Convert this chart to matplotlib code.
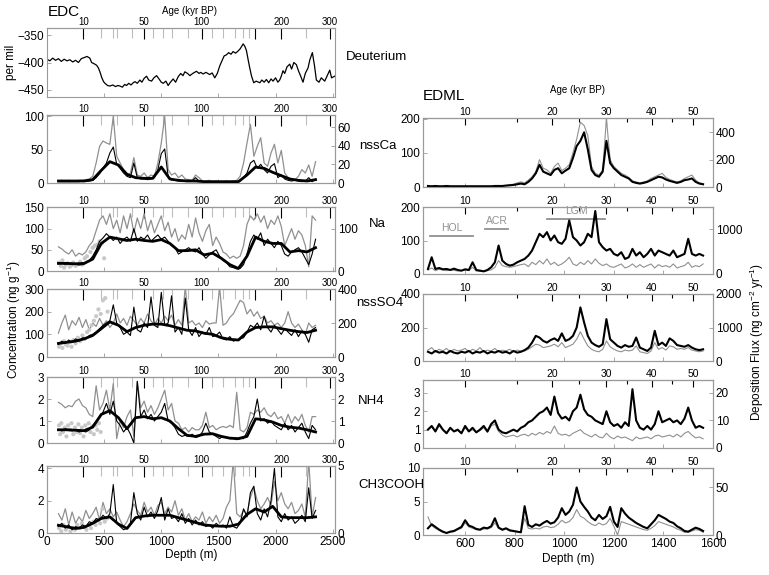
import numpy as np
import matplotlib
matplotlib.use("Agg")
import matplotlib.pyplot as plt

plt.rcParams['font.family'] = ['Liberation Sans', 'DejaVu Sans']
plt.rcParams['mathtext.fontset'] = 'custom'
plt.rcParams['mathtext.rm'] = 'Liberation Sans'
plt.rcParams['mathtext.it'] = 'Liberation Sans:italic'

# ---------------- EDC data ----------------
deut_depth = [0,25,50,75,100,125,150,175,200,225,
              250,275,300,325,350,375,390,410,434,450,
              463,480,495,507,530,551,575,600,620,638,
              660,680,696,715,735,754,770,790,813,830,
              850,871,890,915,935,959,980,1000,1017,1040,
              1060,1080,1104,1125,1148,1170,1190,1206,1230,1250,
              1275,1308,1330,1345,1366,1390,1424,1445,1468,1490,
              1512,1535,1550,1570,1590,1610,1628,1650,1672,1690,
              1705,1716,1730,1745,1760,1774,1790,1809,1830,1862,
              1880,1900,1920,1940,1960,1978,2000,2020,2036,2050,
              2065,2080,2100,2124,2140,2160,2182,2200,2220,2240,
              2260,2284,2300,2322,2340,2357,2380,2400,2430,2450,
              2474,2490,2517]
deut_val = [-394,-397,-392,-396,-393,-398,-394,-397,-395,-399,
            -396,-400,-393,-391,-389,-392,-400,-402,-405,-410,
            -417,-428,-435,-438,-442,-443,-441,-444,-442,-443,
            -445,-440,-442,-438,-441,-437,-435,-438,-432,-436,
            -429,-425,-432,-434,-428,-424,-430,-436,-438,-434,
            -442,-436,-430,-436,-426,-420,-424,-417,-420,-424,
            -420,-416,-420,-418,-421,-418,-422,-419,-428,-420,
            -406,-395,-388,-386,-382,-385,-380,-383,-379,-375,
            -370,-366,-370,-378,-395,-410,-425,-437,-434,-437,
            -432,-436,-431,-437,-430,-434,-428,-436,-432,-425,
            -415,-420,-408,-403,-412,-400,-404,-415,-425,-436,
            -420,-410,-395,-382,-405,-432,-436,-428,-434,-425,
            -414,-428,-425]

edc_depth = np.arange(100, 2351, 30)      # sample depths of thin series (m)
edc_sdepth = np.arange(100, 2351, 75)     # depths of smoothed series (m)

ca_thin = [2,2,2,2,2,2,2,3,3,3, 4,8,14,22,30,45,54,28,22,15, 10,8,30,8,6,6,5,6,8,20,
           44,51,10,5,4,3,3,3,4,3, 8,3,2,2,2,1,1,1,1,2, 1,2,2,3,8,15,30,34,22,28,
           20,15,25,29,8,12,6,4,3,4, 3,2,3,8,2,6]
ca_gray = [3,4,3,4,3,3,4,4,5,6, 10,30,55,63,60,58,100,40,30,20, 12,15,38,12,10,15,8,12,10,30,
           60,100,20,12,15,8,12,6,5,4, 12,8,3,3,4,2,3,2,2,3, 2,3,4,10,30,60,88,40,55,68,
           30,25,45,58,30,49,15,8,6,5, 10,20,15,27,10,32]
ca_smooth = [3,3,3,3,5,19,32,27,13,8, 7,7,24,6,4,3,3,2,2,2, 2,2,12,24,22,16,11,6,4,3, 5]

na_thin = [17,18,16,17,15,16,14,15,18,25, 35,50,70,78,88,80,72,80,65,75, 80,70,100,70,80,75,85,70,78,85,
           75,80,70,60,55,40,45,50,55,48, 45,55,40,30,38,45,50,35,25,20, 10,8,5,6,15,40,70,85,75,90,
           60,75,65,55,70,60,40,35,45,50, 55,45,30,15,40,75]
na_gray = [57,52,45,40,50,35,42,38,45,60, 70,95,120,130,110,135,100,120,90,130, 100,135,90,125,100,135,95,120,90,110,
           130,95,115,80,100,70,85,75,110,80, 125,90,70,95,110,60,80,65,45,40, 30,35,30,35,60,110,130,120,135,115,
           130,100,120,110,130,105,60,80,100,75, 95,85,60,10,130,120]
na_smooth = [18,18,17,18,28,65,80,76,72,75, 72,70,74,65,48,48,50,38,42,30, 15,6,35,80,70,65,65,45,48,45, 55]
na_dot_depth = [105,120,135,150,165,180,200,215,230,250,270,290,310,330,350,380,400,420,440,460,480,500]
na_dot_val = [20,12,25,8,15,18,10,14,20,12,16,22,15,30,35,45,55,60,62,70,65,30]

so4_thin = [55,70,60,75,65,80,70,85,80,95, 100,110,125,140,150,160,230,150,130,100, 110,95,220,120,110,150,130,265,140,130,
            285,140,150,270,110,130,100,260,120,95, 130,90,110,100,130,90,95,110,80,75, 90,70,75,80,85,110,140,130,150,120,
            180,130,110,140,120,100,125,110,95,120, 90,115,100,65,120,130]
so4_gray = [105,150,185,120,160,140,175,130,165,120, 150,135,170,140,160,130,150,190,150,170, 140,180,160,140,170,150,190,160,140,170,
            150,180,160,185,140,165,140,310,150,160, 140,150,130,160,145,150,150,310,140,150, 175,190,220,250,240,190,210,180,200,170,
            180,150,160,140,150,130,150,200,150,130, 145,120,100,150,130,140]
so4_smooth = [60,65,70,80,95,125,155,140,112,130, 140,145,145,138,128,118,115,105,100,85, 78,75,110,130,133,133,125,118,112,108, 118]
so4_dot_depth = [105,120,135,150,165,180,200,215,230,250,270,290,310,330,350,370,390,410,430,450,470,490,510,530]
so4_dot_val = [45,60,40,70,55,50,65,45,75,60,85,70,95,80,110,120,140,160,180,210,190,250,260,200]

nh4_thin = [0.6,0.55,0.65,0.6,0.55,0.6,0.5,0.55,0.5,0.6, 0.8,1.0,1.2,1.4,1.8,1.3,1.9,1.0,0.8,0.5,
            0.7,0.4,0.0,2.8,1.2,1.5,1.1,1.3,1.0,1.2, 1.4,1.8,1.0,0.9,0.7,0.4,0.3,0.35,0.3,0.4,
            0.25,0.3,0.5,0.9,0.5,0.4,0.3,0.2,0.3,0.25, 0.2,0.2,0.15,0.2,0.2,0.5,0.9,1.2,2.0,1.0,
            1.1,0.9,1.0,0.8,0.7,0.6,0.9,0.6,0.8,0.5, 0.7,0.9,0.5,0.2,0.8,0.6]
nh4_gray = [1.85,1.75,1.6,1.7,1.65,1.9,2.0,1.7,1.6,1.3, 1.2,2.6,1.5,1.8,2.4,1.5,2.7,0.2,1.0,0.7,
            1.2,1.5,0.3,2.8,1.6,1.9,1.4,1.7,1.3,1.6, 2.0,2.4,1.5,1.8,1.0,0.9,0.6,0.7,0.5,0.7,
            0.6,0.6,0.8,1.4,0.7,0.8,0.6,0.7,0.75,0.7, 0.8,0.7,2.3,0.6,0.5,0.7,1.4,1.3,1.5,1.4,
            1.6,1.3,1.2,1.4,1.1,1.2,0.9,1.3,0.9,1.2, 1.0,1.3,0.8,0.5,1.2,1.2]
nh4_smooth = [0.6,0.6,0.58,0.56,0.72,1.3,1.47,1.15,0.65,1.15, 1.2,1.1,1.15,1.0,0.65,0.35,0.3,0.4,0.42,0.3,
              0.22,0.2,0.3,1.1,1.05,0.95,0.8,0.72,0.68,0.6, 0.5]
nh4_dot_depth = [105,115,125,140,155,170,185,200,215,230,245,260,275,290,305,320,335,350,365,380,395,410,425,440,455,470]
nh4_dot_val = [0.8,0.4,0.9,0.5,0.7,0.3,0.8,0.6,0.9,0.4,0.7,0.5,0.85,0.45,0.7,0.3,0.8,0.6,0.9,0.5,0.75,0.4,0.8,0.6,0.9,0.5]

ac_thin = [0.4,0.6,0.3,0.5,0.2,0.4,0.3,0.5,0.4,0.7, 0.6,0.9,0.8,1.1,0.9,1.2,3.0,0.6,0.4,0.2,
           0.3,0.6,2.5,1.2,0.8,1.6,1.0,1.3,0.9,1.4, 2.2,0.8,1.5,0.9,1.0,0.7,1.2,0.6,0.9,0.5,
           0.8,0.5,0.7,0.4,0.5,0.3,0.6,0.4,0.5,0.3, 1.0,0.4,0.3,0.6,1.5,1.0,2.5,2.9,1.2,0.8,
           1.5,1.0,2.0,4.0,1.0,0.7,1.2,0.8,1.0,0.6, 0.8,1.1,0.7,2.8,0.9,1.4]
ac_gray = [1.2,0.8,1.5,0.5,1.3,0.6,1.0,0.7,1.4,0.9, 1.2,1.6,0.8,1.9,1.2,1.5,1.0,1.3,0.8,0.4,
           0.7,1.2,1.8,1.4,1.1,1.9,1.3,1.6,1.1,1.7, 1.9,1.2,1.6,1.3,2.0,1.1,1.5,0.8,1.2,0.7,
           1.0,0.8,1.3,0.6,1.0,0.7,1.1,0.6,0.9,1.6, 2.0,4.5,1.2,1.0,1.4,1.2,2.2,2.8,2.0,1.5,
           1.8,2.2,1.7,3.2,2.0,2.5,1.8,1.5,1.9,1.2, 1.4,1.8,1.0,4.5,1.0,2.2]
ac_smooth = [0.48,0.38,0.28,0.35,0.6,0.9,1.0,0.55,0.28,0.95, 1.05,1.1,1.1,1.1,0.95,0.8,0.65,0.5,0.45,0.42,
             0.42,0.55,1.15,1.5,1.3,1.65,1.0,0.95,0.95,0.95, 1.0]
ac_dot_depth = [105,125,145,165,185,205,225,245,265,285,305,325,345,365,385,405,425,445,465,485,505,525]
ac_dot_val = [0.3,0.1,0.5,0.2,0.4,0.1,0.3,0.2,0.5,0.3,0.6,0.4,0.2,0.5,0.3,0.7,0.5,0.8,0.6,1.5,0.7,0.9]

# EDC age scale (depth of age markers, m)
edc_age_major = [318, 848, 1352, 1818, 2051, 2474]
edc_age_labels = ['10', '50', '100', '', '200', '300']
edc_age_minor = [472, 574, 612, 740, 929, 1017, 1090, 1235, 1440, 1541, 1643, 1716, 1769, 2270]

# ---------------- EDML data ----------------
edml_depth = np.arange(450, 1561, 15)

m_ca = [3,2,3,2,2,3,2,2,2,2, 2,2,2,2,2,2,2,2,3,3, 3,4,5,6,8,10,8,15,25,40,
        65,45,40,35,50,55,40,48,55,85, 120,135,160,110,50,35,30,45,135,70,
        55,45,35,30,25,15,12,10,12,15, 20,25,30,28,22,18,15,12,15,20, 22,25,15,10,8]
m_ca_gray = [4,3,4,3,3,4,3,3,3,3, 3,3,3,3,3,3,3,3,4,4, 4,5,7,8,12,15,12,20,30,45,
             80,55,50,40,60,70,48,55,65,100, 140,190,180,150,60,40,35,50,200,80,
             60,50,40,35,28,18,15,12,15,18, 25,30,35,40,28,22,18,15,18,25, 30,35,20,12,10]
m_na = [15,50,15,18,14,15,12,16,12,10, 14,12,35,12,10,8,12,20,35,85, 40,30,25,28,35,40,45,55,70,95,
        120,110,125,100,115,95,90,105,160,110, 100,85,95,120,110,188,95,80,70,75,
        60,55,65,45,50,75,55,65,50,60, 75,55,70,65,60,55,70,50,55,60, 105,60,55,60,55]
m_na_gray = [12,18,10,14,12,10,13,11,9,10, 12,10,20,9,8,7,10,12,20,40, 25,22,20,22,25,28,30,22,35,28,
             40,30,45,28,35,25,30,38,50,30, 25,35,28,40,30,45,32,25,30,22,
             20,25,30,18,22,30,20,28,20,25, 30,18,28,22,25,20,30,18,22,25, 35,20,25,22,30]
m_so4 = [55,45,60,50,55,45,60,50,45,55, 50,60,45,55,50,60,45,55,50,60, 50,55,45,60,50,55,65,80,110,150,
         140,120,110,125,135,120,165,120,130,150, 200,320,230,150,110,95,85,100,250,130,
         110,90,80,95,85,90,140,80,70,60, 80,180,95,110,90,135,120,95,90,85, 95,80,70,65,70]
m_so4_gray = [65,80,55,70,60,75,55,70,60,65, 75,55,70,60,80,55,65,60,75,55, 65,60,70,55,65,60,60,70,85,100,
              95,80,85,90,100,85,110,80,90,100, 130,175,130,90,70,60,55,70,120,85,
              70,60,55,65,60,65,90,55,50,45, 60,110,70,80,65,90,85,70,75,70, 80,65,60,55,60]
m_nh4 = [1.0,1.2,0.9,1.3,1.0,0.8,1.1,0.9,1.0,0.8, 1.2,0.9,1.1,0.85,1.0,1.2,0.9,1.3,1.5,1.0,
         0.85,0.8,0.9,1.0,0.9,1.1,1.2,1.4,1.5,1.7, 1.9,2.0,2.2,1.8,2.8,1.9,1.6,1.7,1.5,2.0,
         2.2,2.9,2.1,1.8,1.7,1.5,1.4,1.3,2.0,1.4, 1.2,1.3,1.1,1.4,1.2,3.2,1.5,1.1,1.0,1.2,
         1.0,1.3,2.0,1.4,1.5,1.6,1.4,1.5,1.3,1.6, 2.2,1.5,1.1,1.2,1.1]
m_nh4_gray = [1.0,1.15,0.9,1.2,1.0,0.85,1.05,0.9,0.95,0.8, 1.1,0.9,1.0,0.85,0.95,1.1,0.85,1.2,1.3,0.9,
              0.7,0.6,0.65,0.7,0.6,0.7,0.75,0.65,0.8,0.7, 0.85,0.75,0.9,0.8,1.2,0.8,0.7,0.75,0.65,0.8,
              0.9,1.0,0.8,0.7,0.6,0.75,0.6,0.55,0.8,0.6, 0.5,0.65,0.55,0.6,0.5,0.4,0.6,0.5,0.55,0.6,
              0.5,0.65,0.7,0.6,0.65,0.7,0.6,0.75,0.6,0.8, 0.9,0.7,0.55,0.6,0.5]
m_ac = [1.0,1.6,1.2,0.8,0.5,0.3,0.5,0.6,0.9,1.2, 2.2,1.4,1.2,0.9,0.8,1.1,1.0,1.3,2.5,1.1,
        0.8,1.0,0.7,0.6,0.5,0.4,4.3,1.5,1.2,1.6, 1.4,1.8,2.1,1.7,1.9,2.6,4.0,3.0,3.5,4.5,
        7.1,5.0,4.2,3.5,2.6,2.2,3.0,2.4,2.8,4.2, 2.0,1.2,4.0,3.2,2.6,2.2,1.8,1.5,1.2,1.0,
        1.6,2.2,3.0,2.7,2.4,2.0,1.8,1.3,1.0,0.6, 0.5,0.8,1.1,0.9,0.6]
m_ac_gray = [2.7,1.4,1.0,0.7,0.4,0.3,0.4,0.5,0.8,1.0, 1.8,1.2,1.0,0.8,0.7,0.9,0.9,1.1,1.8,1.0,
             0.7,0.9,0.6,0.5,0.5,0.4,2.5,1.0,0.9,1.0, 0.9,1.2,1.3,1.1,1.2,1.6,2.2,1.8,2.0,2.6,
             3.8,2.8,2.5,2.0,1.6,1.4,1.8,1.5,1.7,2.5, 1.3,0.0,2.0,1.8,1.6,1.4,1.2,1.0,0.8,0.7,
             1.0,1.4,2.0,1.8,1.6,1.4,1.2,0.9,0.7,0.4, 0.4,0.6,0.8,0.7,0.4]

edml_age_major = [600, 950, 1169, 1353, 1521]
edml_age_labels = ['10', '20', '30', '40', '50']
edml_age_minor = [808, 1061, 1252, 1435]

periods = ['HOL', 'ACR', 'LGM']
period_start = [459, 681, 931]
period_end = [632, 773, 1165]
period_level = [113, 134, 164]

# ---------------- figure ----------------
W, H = 769, 575
fig = plt.figure(figsize=(W / 100, H / 100), dpi=100)
SP = '#9a9a9a'
GRAY = '#909090'
LGRAY = '#c8c8c8'
TS = 8.5


def add_ax(x0, x1, y0, y1):
    return fig.add_axes([x0 / W, 1 - y1 / H, (x1 - x0) / W, (y1 - y0) / H])


def frame(ax):
    for s in ax.spines.values():
        s.set_color(SP)
        s.set_linewidth(0.8)
    ax.tick_params(direction='in', length=3, width=0.6, color=SP, labelsize=TS, pad=2)


def age_axis(ax, major, labels, minor, mlen, nlen, ncol, size):
    sec = ax.secondary_xaxis('top')
    sec.set_xticks(major, labels=labels)
    sec.set_xticks(minor, minor=True)
    sec.tick_params(which='major', direction='in', length=mlen, width=0.8,
                    color='black', labelsize=size, pad=1)
    sec.tick_params(which='minor', direction='in', length=nlen, width=0.8, color=ncol)
    for s in sec.spines.values():
        s.set_color(SP)
        s.set_linewidth(0.8)


def ft(x, y, s, **kw):
    fig.text(x / W, 1 - y / H, s, **kw)


def edc_panel(y0, y1, ylim, yticks, rlim=None, rticks=None, last=False):
    ax = add_ax(47, 335, y0, y1)
    ax.set_xlim(0, 2520)
    ax.set_ylim(*ylim)
    ax.set_yticks(yticks)
    ax.set_xticks([0, 500, 1000, 1500, 2000, 2500])
    frame(ax)
    if not last:
        ax.tick_params(labelbottom=False)
    if rlim is not None:
        rx = ax.twinx()
        rx.set_ylim(*rlim)
        rx.set_yticks(rticks)
        frame(rx)
    age_axis(ax, edc_age_major, edc_age_labels, edc_age_minor, 8, 7, '#bdbdbd', 7)
    return ax


def edml_panel(y0, y1, ylim, yticks, rlim, rticks, last=False):
    ax = add_ax(423, 713, y0, y1)
    ax.set_xlim(430, 1600)
    ax.set_ylim(*ylim)
    ax.set_yticks(yticks)
    ax.set_xticks([600, 800, 1000, 1200, 1400, 1600])
    frame(ax)
    if not last:
        ax.tick_params(labelbottom=False)
    rx = ax.twinx()
    rx.set_ylim(*rlim)
    rx.set_yticks(rticks)
    frame(rx)
    age_axis(ax, edml_age_major, edml_age_labels, edml_age_minor, 5, 3, 'black', 7.5)
    return ax


def edc_series(ax, thin, gray, smooth, dd=None, dv=None):
    ax.plot(edc_depth, gray, color=GRAY, lw=0.9, zorder=2)
    if dd is not None:
        ax.scatter(dd, dv, s=9, color=LGRAY, edgecolors='none', zorder=3)
    ax.plot(edc_depth, thin, color='black', lw=0.8, zorder=4)
    ax.plot(edc_sdepth, smooth, color='black', lw=2.0, zorder=5)


# ---- EDC column ----
ax = edc_panel(28, 97, (-463, -337), [-450, -400, -350])
ax.plot(deut_depth, deut_val, color='black', lw=0.9)

ax = edc_panel(115, 183, (0, 102), [0, 50, 100], (0, 73), [0, 20, 40, 60])
edc_series(ax, ca_thin, ca_gray, ca_smooth)

ax = edc_panel(207, 271, (0, 151), [0, 50, 100, 150], (0, 151), [0, 100])
edc_series(ax, na_thin, na_gray, na_smooth, na_dot_depth, na_dot_val)

ax = edc_panel(289, 357, (0, 300), [0, 100, 200, 300], (0, 400), [0, 200, 400])
edc_series(ax, so4_thin, so4_gray, so4_smooth, so4_dot_depth, so4_dot_val)

ax = edc_panel(377, 443, (0, 3), [0, 1, 2, 3], (0, 3), [0, 1, 2, 3])
edc_series(ax, nh4_thin, nh4_gray, nh4_smooth, nh4_dot_depth, nh4_dot_val)

ax = edc_panel(466, 533, (0, 4.15), [0, 2, 4], (0, 5), [0, 5], last=True)
edc_series(ax, ac_thin, ac_gray, ac_smooth, ac_dot_depth, ac_dot_val)
ax.set_xlabel('Depth (m)', fontsize=TS, labelpad=1)

# ---- EDML column ----
edml_specs = [
    ((118, 187), (0, 202), [0, 100, 200], (0, 505), [0, 200, 400], m_ca, m_ca_gray),
    ((207, 274), (0, 200), [0, 100, 200], (0, 1500), [0, 1000], m_na, m_na_gray),
    ((294, 361), (0, 400), [0, 200, 400], (0, 2000), [0, 1000, 2000], m_so4, m_so4_gray),
    ((380, 448), (0, 3.7), [0, 1, 2, 3], (0, 24.7), [0, 10, 20], m_nh4, m_nh4_gray),
    ((468, 535), (0, 10), [0, 5, 10], (0, 70), [0, 50], m_ac, m_ac_gray),
]
edml_axes = []
for i, (yy, yl, yt, rl, rt, blk, gry) in enumerate(edml_specs):
    ax = edml_panel(yy[0], yy[1], yl, yt, rl, rt, last=(i == len(edml_specs) - 1))
    ax.plot(edml_depth, gry, color=GRAY, lw=0.8, zorder=2)
    ax.plot(edml_depth, blk, color='black', lw=1.5, zorder=3)
    edml_axes.append(ax)
edml_axes[-1].set_xlabel('Depth (m)', fontsize=TS, labelpad=2)

# periods in EDML Na panel
na_ax = edml_axes[1]
for name, a, b, lev in zip(periods, period_start, period_end, period_level):
    na_ax.plot([a, b], [lev, lev], color=GRAY, lw=1.3)
    na_ax.text((a + b) / 2, lev + 8, name, color=GRAY, fontsize=7.5, ha='center', va='bottom')

# ---- texts ----
ft(48, 12, 'EDC', fontsize=11, ha='left', va='center')
ft(190, 11, 'Age (kyr BP)', fontsize=7, ha='center', va='center')
ft(11, 62, 'per mil', fontsize=8.5, rotation=90, ha='center', va='center')
ft(14, 320, 'Concentration (ng g$^{-1}$)', fontsize=8.5, rotation=90, ha='center', va='center')
ft(346, 57, 'Deuterium', fontsize=9.5, ha='left', va='center')
ft(359, 146, 'nssCa', fontsize=9.5, ha='left', va='center')
ft(369, 224, 'Na', fontsize=9.5, ha='left', va='center')
ft(356, 303, 'nssSO4', fontsize=9.5, ha='left', va='center')
ft(358, 401, 'NH4', fontsize=9.5, ha='left', va='center')
ft(358, 485, 'CH3COOH', fontsize=9.5, ha='left', va='center')
ft(423, 96, 'EDML', fontsize=11, ha='left', va='center')
ft(578, 90, 'Age (kyr BP)', fontsize=7, ha='center', va='center')
ft(757, 342, 'Deposition Flux (ng cm$^{-2}$ yr$^{-1}$)', fontsize=8.5, rotation=90,
   ha='center', va='center')

fig.savefig('out.png', dpi=100)
